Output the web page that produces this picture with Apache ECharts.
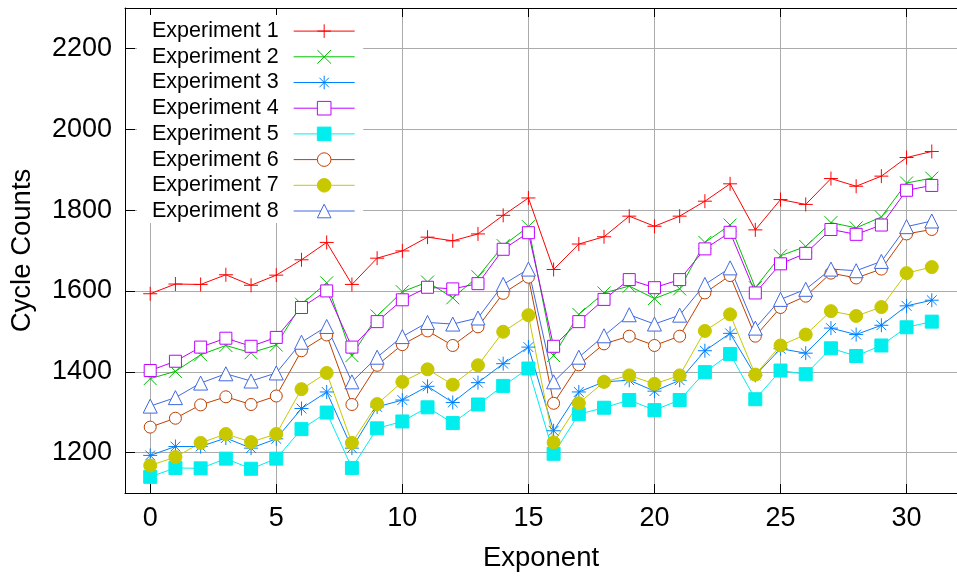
<!DOCTYPE html>
<html>
<head>
<meta charset="utf-8">
<script src="https://cdn.jsdelivr.net/npm/echarts@6/dist/echarts.min.js"></script>
<style>
html,body{margin:0;padding:0;background:#fff;}
#chart{width:957px;height:577px;}
</style>
</head>
<body>
<div id="chart"></div>
<script>
// ---- data ----
var exponents = [0,1,2,3,4,5,6,7,8,9,10,11,12,13,14,15,16,17,18,19,20,21,22,23,24,25,26,27,28,29,30,31];
var seriesNames = ['Experiment 1','Experiment 2','Experiment 3','Experiment 4','Experiment 5','Experiment 6','Experiment 7','Experiment 8'];
var exp1 = [1593,1617,1616,1640,1614,1639,1677,1720,1616,1681,1699,1733,1724,1741,1787,1830,1653,1716,1734,1785,1760,1785,1822,1865,1751,1826,1814,1878,1859,1884,1930,1945];
var exp2 = [1383,1401,1442,1465,1447,1466,1567,1620,1440,1538,1598,1622,1583,1635,1712,1759,1440,1542,1595,1612,1581,1605,1720,1763,1608,1687,1710,1769,1756,1783,1867,1879];
var exp3 = [1193,1215,1215,1236,1211,1234,1309,1350,1211,1313,1330,1364,1324,1373,1420,1461,1254,1350,1375,1379,1352,1379,1452,1495,1391,1457,1446,1508,1492,1515,1563,1577];
var exp4 = [1403,1426,1461,1483,1463,1485,1559,1600,1461,1524,1578,1609,1605,1618,1703,1744,1463,1524,1579,1628,1608,1628,1704,1745,1595,1667,1693,1752,1740,1763,1849,1861];
var exp5 = [1140,1162,1161,1185,1160,1185,1258,1299,1162,1260,1277,1312,1273,1319,1365,1408,1197,1295,1311,1330,1305,1330,1399,1444,1332,1403,1394,1458,1439,1465,1510,1524];
var exp6 = [1263,1285,1318,1338,1319,1340,1452,1491,1319,1416,1467,1501,1465,1511,1594,1634,1322,1417,1469,1488,1465,1488,1595,1638,1488,1559,1587,1644,1632,1654,1741,1752];
var exp7 = [1168,1189,1224,1246,1226,1246,1357,1397,1224,1320,1375,1406,1368,1416,1499,1540,1225,1322,1375,1391,1370,1391,1501,1542,1393,1465,1492,1550,1538,1560,1644,1659];
var exp8 = [1315,1336,1372,1395,1377,1397,1473,1512,1375,1436,1487,1522,1518,1533,1616,1654,1375,1436,1489,1541,1518,1540,1616,1657,1508,1579,1604,1654,1650,1673,1759,1773];
var allValues = [exp1,exp2,exp3,exp4,exp5,exp6,exp7,exp8];
var xAxisName = 'Exponent';
var yAxisName = 'Cycle Counts';

// ---- styles ----
var colors = ['#ff0000','#00c000','#0080ff','#c000ff','#00eeee','#c04000','#c8c800','#4169e1'];
var symbols = [
  'path://M5,0 L5,10 M0,5 L10,5',
  'path://M0,0 L10,10 M10,0 L0,10',
  'path://M5,0 L5,10 M0,5 L10,5 M1.5,1.5 L8.5,8.5 M8.5,1.5 L1.5,8.5',
  'rect',
  'rect',
  'circle',
  'circle',
  'triangle'
];
var hollow = [false,false,false,true,false,true,false,true];
var symbolSizes = [14,13,14,12,13,12,13,14];

var chart = echarts.init(document.getElementById('chart'), null, {renderer:'canvas'});
var FONT = 'Liberation Sans, Arial, sans-serif';

var series = allValues.map(function(vals, i){
  return {
    name: seriesNames[i],
    type: 'line',
    xAxisIndex: 0,
    data: exponents.map(function(x, j){ return [x, vals[j]]; }),
    symbol: symbols[i],
    symbolSize: symbolSizes[i],
    showAllSymbol: true,
    lineStyle: {color: colors[i], width: 1},
    itemStyle: {color: hollow[i] ? '#ffffff' : colors[i], borderColor: colors[i], borderWidth: 1},
    emphasis: {disabled: true},
    animation: false
  };
});

var option = {
  animation: false,
  backgroundColor: '#ffffff',
  grid: {left: 123.8, top: 8, width: 842.9, height: 491, containLabel: false},
  legend: {
    orient: 'vertical',
    align: 'right',
    left: 137,
    top: 15,
    padding: [5.1, 8, 1, 15],
    backgroundColor: '#ffffff',
    itemWidth: 61,
    itemHeight: 17,
    itemGap: 3.7,
    selectedMode: false,
    data: seriesNames,
    itemStyle: {borderWidth: 1},
    lineStyle: {width: 1},
    textStyle: {fontFamily: FONT, fontSize: 21.5, color: '#000', padding: [0, 10, 0, 0]}
  },
  xAxis: [{
    type: 'value',
    min: -1, max: 32,
    splitNumber: 7,
    name: xAxisName,
    nameLocation: 'middle',
    nameGap: 51,
    nameTextStyle: {fontFamily: FONT, fontSize: 27.5, color: '#000'},
    axisLine: {show: true, onZero: false, lineStyle: {color: '#000', width: 1}},
    axisTick: {show: true, inside: true, length: 9, lineStyle: {color: '#000', width: 1}},
    axisLabel: {show: true, showMinLabel: false, showMaxLabel: false, margin: 12, fontFamily: FONT, fontSize: 27, color: '#000',
      formatter: function(v){ return String(v); }},
    splitLine: {show: true, lineStyle: {color: '#ababab', width: 1}}
  },{
    type: 'value',
    position: 'top',
    min: -1, max: 32,
    splitNumber: 7,
    axisLine: {show: true, onZero: false, lineStyle: {color: '#000', width: 1}},
    axisTick: {show: true, inside: true, length: 9, lineStyle: {color: '#000', width: 1}},
    axisLabel: {show: false},
    splitLine: {show: false}
  }],
  yAxis: {
    type: 'value',
    min: 1100, max: 2300,
    splitNumber: 6,
    name: yAxisName,
    nameLocation: 'middle',
    nameGap: 89,
    nameTextStyle: {fontFamily: FONT, fontSize: 27.5, color: '#000'},
    axisLine: {show: true, onZero: false, lineStyle: {color: '#000', width: 1}},
    axisTick: {show: true, inside: true, length: 10, lineStyle: {color: '#000', width: 1}},
    axisLabel: {show: true, showMinLabel: false, showMaxLabel: false, margin: 13, fontFamily: FONT, fontSize: 27, color: '#000',
      formatter: function(v){ return String(v); }},
    splitLine: {show: true, lineStyle: {color: '#ababab', width: 1}}
  },
  series: series
};
chart.setOption(option);
</script>
</body>
</html>
